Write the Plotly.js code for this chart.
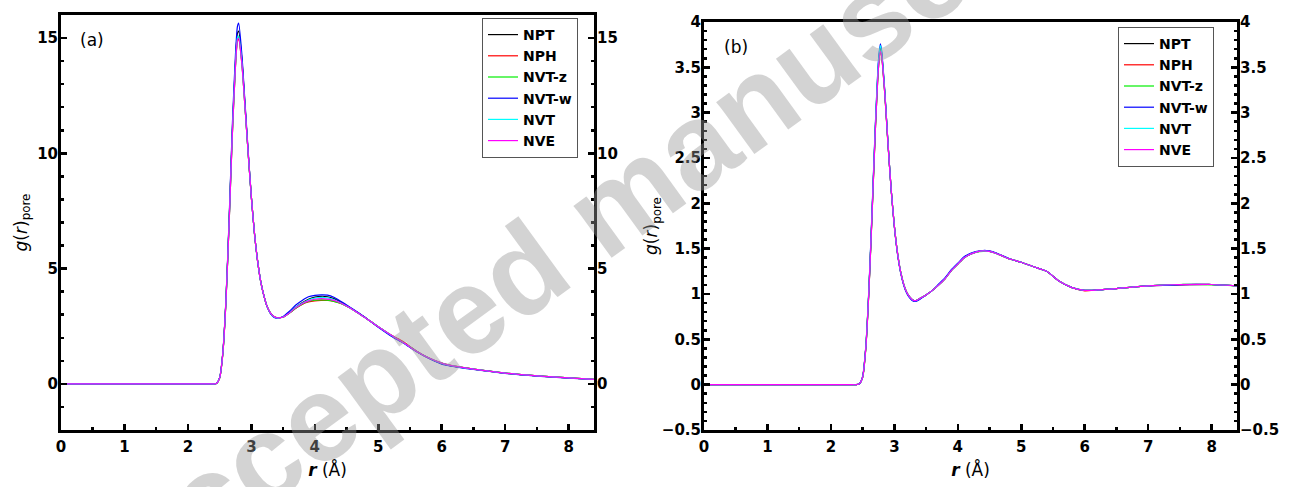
<!DOCTYPE html>
<html>
<head>
<meta charset="utf-8">
<script src="https://cdn.plot.ly/plotly-3.0.1.min.js"></script>
<style>html,body{margin:0;padding:0;background:#fff}#chart{width:1290px;height:487px}</style>
</head>
<body>
<div id="chart"></div>
<script>
// ---------- data ----------
const seriesNames = ["NPT", "NPH", "NVT-z", "NVT-w", "NVT", "NVE"];
const seriesColors = ["#000000", "#ff0000", "#00ee00", "#0000ff", "#00ffff", "#ff00ff"];

const rA = [0, 2.3, 2.4, 2.45, 2.5, 2.55, 2.6, 2.65, 2.7, 2.75, 2.78, 2.8, 2.85, 2.9, 2.95, 3.0, 3.05, 3.1, 3.15, 3.2, 3.25, 3.3, 3.35, 3.4, 3.5, 3.6, 3.7, 3.8, 3.9, 4.0, 4.1, 4.2, 4.3, 4.4, 4.5, 4.6, 4.7, 4.8, 4.9, 5.0, 5.2, 5.4, 5.6, 5.8, 6.0, 6.2, 6.5, 7.0, 7.5, 8.0, 8.4];
const gA_NPT  = [0, 0, 0, 0.02, 0.26, 1.32, 3.65, 7.1, 11.0, 14.0, 15.2, 15.3, 14.1, 12.1, 10.0, 8.1, 6.5, 5.3, 4.4, 3.8, 3.34, 3.07, 2.92, 2.86, 2.9, 3.1, 3.33, 3.52, 3.67, 3.76, 3.8, 3.78, 3.7, 3.56, 3.4, 3.23, 3.05, 2.87, 2.67, 2.48, 2.1, 1.78, 1.42, 1.11, 0.88, 0.76, 0.64, 0.47, 0.35, 0.26, 0.2];
const gA_NPH  = [0, 0, 0, 0.02, 0.25, 1.3, 3.6, 7.0, 10.8, 13.8, 14.85, 14.95, 13.9, 12.0, 10.0, 8.1, 6.5, 5.3, 4.4, 3.8, 3.35, 3.08, 2.93, 2.88, 2.9, 3.07, 3.28, 3.45, 3.55, 3.6, 3.62, 3.62, 3.58, 3.5, 3.37, 3.22, 3.04, 2.86, 2.67, 2.48, 2.12, 1.82, 1.43, 1.12, 0.9, 0.77, 0.64, 0.47, 0.35, 0.26, 0.2];
const gA_NVTz = [0, 0, 0, 0.02, 0.25, 1.3, 3.6, 7.0, 10.8, 13.8, 14.95, 15.05, 13.95, 12.0, 10.0, 8.1, 6.5, 5.3, 4.4, 3.8, 3.35, 3.08, 2.92, 2.87, 2.9, 3.07, 3.28, 3.46, 3.58, 3.63, 3.64, 3.63, 3.58, 3.5, 3.37, 3.22, 3.04, 2.86, 2.67, 2.48, 2.12, 1.78, 1.42, 1.12, 0.9, 0.77, 0.64, 0.47, 0.35, 0.26, 0.2];
const gA_NVTw = [0, 0, 0, 0.02, 0.27, 1.35, 3.7, 7.2, 11.2, 14.3, 15.5, 15.65, 14.3, 12.2, 10.1, 8.1, 6.5, 5.3, 4.4, 3.8, 3.34, 3.06, 2.9, 2.85, 2.92, 3.15, 3.42, 3.62, 3.78, 3.84, 3.86, 3.85, 3.76, 3.6, 3.42, 3.25, 3.06, 2.87, 2.66, 2.46, 2.08, 1.76, 1.4, 1.1, 0.86, 0.75, 0.63, 0.46, 0.34, 0.25, 0.19];
const gA_NVT  = [0, 0, 0, 0.02, 0.26, 1.31, 3.62, 7.05, 10.9, 13.9, 15.0, 15.1, 13.95, 12.0, 10.0, 8.1, 6.5, 5.3, 4.4, 3.8, 3.35, 3.07, 2.92, 2.86, 2.9, 3.08, 3.33, 3.5, 3.64, 3.72, 3.75, 3.73, 3.66, 3.53, 3.38, 3.22, 3.04, 2.86, 2.67, 2.48, 2.11, 1.78, 1.42, 1.12, 0.89, 0.77, 0.64, 0.47, 0.35, 0.26, 0.2];
const gA_NVE  = [0, 0, 0, 0.02, 0.25, 1.3, 3.6, 7.0, 10.8, 13.8, 14.9, 15.0, 13.9, 12.0, 10.0, 8.1, 6.5, 5.3, 4.4, 3.8, 3.35, 3.08, 2.93, 2.87, 2.9, 3.08, 3.3, 3.48, 3.6, 3.67, 3.7, 3.68, 3.62, 3.52, 3.38, 3.22, 3.04, 2.86, 2.67, 2.48, 2.12, 1.78, 1.42, 1.12, 0.9, 0.77, 0.64, 0.47, 0.35, 0.26, 0.2];

const rB = [0, 2.3, 2.4, 2.45, 2.5, 2.55, 2.6, 2.65, 2.7, 2.75, 2.78, 2.8, 2.85, 2.9, 2.95, 3.0, 3.05, 3.1, 3.15, 3.2, 3.25, 3.3, 3.35, 3.4, 3.5, 3.6, 3.7, 3.8, 3.9, 4.0, 4.1, 4.2, 4.3, 4.4, 4.5, 4.6, 4.7, 4.8, 4.9, 5.0, 5.2, 5.4, 5.6, 5.8, 6.0, 6.2, 6.5, 7.0, 7.5, 8.0, 8.4];
const gB_NPT  = [0, 0, 0, 0.01, 0.08, 0.41, 1.06, 1.92, 2.83, 3.54, 3.72, 3.65, 3.22, 2.66, 2.15, 1.75, 1.45, 1.24, 1.1, 1.01, 0.96, 0.93, 0.93, 0.95, 0.99, 1.04, 1.1, 1.17, 1.26, 1.33, 1.4, 1.44, 1.465, 1.475, 1.47, 1.45, 1.42, 1.39, 1.37, 1.35, 1.3, 1.25, 1.14, 1.07, 1.04, 1.045, 1.06, 1.09, 1.105, 1.105, 1.09];
const gB_NPH  = [0, 0, 0, 0.01, 0.08, 0.4, 1.05, 1.9, 2.8, 3.5, 3.68, 3.62, 3.2, 2.65, 2.15, 1.75, 1.45, 1.24, 1.1, 1.01, 0.96, 0.93, 0.93, 0.95, 0.99, 1.04, 1.1, 1.17, 1.26, 1.33, 1.4, 1.44, 1.465, 1.475, 1.47, 1.45, 1.42, 1.39, 1.37, 1.35, 1.3, 1.25, 1.14, 1.07, 1.035, 1.045, 1.06, 1.09, 1.1, 1.105, 1.09];
const gB_NVTz = [0, 0, 0, 0.01, 0.08, 0.4, 1.05, 1.9, 2.8, 3.5, 3.69, 3.63, 3.2, 2.65, 2.15, 1.75, 1.45, 1.24, 1.1, 1.01, 0.96, 0.93, 0.93, 0.95, 0.99, 1.04, 1.1, 1.17, 1.26, 1.33, 1.4, 1.44, 1.465, 1.47, 1.47, 1.45, 1.42, 1.39, 1.37, 1.35, 1.3, 1.25, 1.14, 1.07, 1.04, 1.045, 1.06, 1.09, 1.105, 1.1, 1.09];
const gB_NVTw = [0, 0, 0, 0.01, 0.09, 0.42, 1.08, 1.95, 2.86, 3.58, 3.76, 3.68, 3.23, 2.66, 2.15, 1.74, 1.44, 1.23, 1.09, 1.0, 0.95, 0.92, 0.92, 0.94, 0.99, 1.04, 1.11, 1.18, 1.27, 1.34, 1.41, 1.45, 1.47, 1.48, 1.475, 1.455, 1.425, 1.395, 1.37, 1.35, 1.3, 1.25, 1.14, 1.07, 1.04, 1.045, 1.06, 1.09, 1.1, 1.105, 1.09];
const gB_NVT  = [0, 0, 0, 0.01, 0.08, 0.41, 1.07, 1.93, 2.85, 3.56, 3.74, 3.66, 3.22, 2.66, 2.15, 1.75, 1.45, 1.24, 1.1, 1.01, 0.96, 0.93, 0.93, 0.95, 0.99, 1.04, 1.1, 1.17, 1.26, 1.33, 1.4, 1.44, 1.465, 1.475, 1.47, 1.45, 1.42, 1.39, 1.37, 1.35, 1.3, 1.25, 1.14, 1.07, 1.04, 1.045, 1.06, 1.09, 1.105, 1.105, 1.09];
const gB_NVE  = [0, 0, 0, 0.01, 0.08, 0.4, 1.05, 1.9, 2.8, 3.5, 3.68, 3.62, 3.2, 2.65, 2.15, 1.75, 1.45, 1.24, 1.1, 1.01, 0.96, 0.93, 0.93, 0.95, 0.99, 1.04, 1.1, 1.17, 1.26, 1.33, 1.4, 1.44, 1.465, 1.475, 1.47, 1.45, 1.42, 1.39, 1.37, 1.35, 1.3, 1.25, 1.14, 1.07, 1.04, 1.045, 1.06, 1.09, 1.105, 1.105, 1.09];

const xTickVals = [0, 1, 2, 3, 4, 5, 6, 7, 8];
const yTickValsA = [0, 5, 10, 15];
const yTickValsB = [-0.5, 0, 0.5, 1, 1.5, 2, 2.5, 3, 3.5, 4];
const yTickTextB = ["−0.5", "0", "0.5", "1", "1.5", "2", "2.5", "3", "3.5", "4"];

const seriesA = [gA_NPT, gA_NPH, gA_NVTz, gA_NVTw, gA_NVT, gA_NVE];
const seriesB = [gB_NPT, gB_NPH, gB_NVTz, gB_NVTw, gB_NVT, gB_NVE];

// ---------- traces ----------
// the last series of each panel is drawn against the mirrored right-hand axis (same range),
// so that the right axis with its labels is rendered
const traces = [];
seriesNames.forEach((name, i) => {
  const last = i === seriesNames.length - 1;
  traces.push({x: rA, y: seriesA[i], type: "scatter", mode: "lines", name: name,
    line: {color: seriesColors[i], width: 1.2, shape: "spline", smoothing: 0.6},
    xaxis: "x", yaxis: last ? "y3" : "y", legend: "legend"});
});
seriesNames.forEach((name, i) => {
  const last = i === seriesNames.length - 1;
  traces.push({x: rB, y: seriesB[i], type: "scatter", mode: "lines", name: name,
    line: {color: seriesColors[i], width: 1.2, shape: "spline", smoothing: 0.6},
    xaxis: "x2", yaxis: last ? "y4" : "y2", legend: "legend2"});
});

// ---------- layout ----------
const W = 1290, H = 487;
const tickFont = {family: "DejaVu Sans", size: 15, color: "#000", weight: "bold"};
const px = v => v / W, py = v => 1 - v / H;

function xAxis(domain, anchor) {
  return {domain: domain, anchor: anchor, range: [0, 8.4], tickvals: xTickVals,
    ticks: "inside", ticklen: 6, tickwidth: 2.5, tickcolor: "#000",
    minor: {dtick: 0.5, tick0: 0, ticks: "inside", ticklen: 3, tickwidth: 2.5, tickcolor: "#000"},
    showline: true, linewidth: 3, linecolor: "#000", mirror: true, ticklabelstandoff: 1,
    showgrid: false, zeroline: false, tickfont: tickFont,
    title: {text: "<b><i>r</i></b> (Å)", font: {family: "DejaVu Sans", size: 17, color: "#000"}, standoff: 10}};
}
function yAxis(domain, anchor, range, tickvals, ticktext, minorDt, side, overlay, standoff) {
  const ax = {domain: domain, anchor: anchor, range: range, tickvals: tickvals,
    ticks: "inside", ticklen: 6, tickwidth: 2.5, tickcolor: "#000",
    minor: {dtick: minorDt, tick0: 0, ticks: "inside", ticklen: 3, tickwidth: 2.5, tickcolor: "#000"},
    showline: true, linewidth: 3, linecolor: "#000", ticklabelstandoff: -3,
    showgrid: false, zeroline: false, tickfont: tickFont, side: side};
  if (ticktext) ax.ticktext = ticktext;
  if (overlay) ax.overlaying = overlay;
  else ax.title = {text: "<i>g</i>(<i>r</i>)<sub>pore</sub>", font: {family: "DejaVu Sans", size: 17, color: "#000"}, standoff: standoff};
  return ax;
}

const domXA = [px(61), px(594)], domYA = [py(430), py(15)];
const domXB = [px(704), px(1237)], domYB = [py(430), py(22)];

const legendBase = {xanchor: "left", yanchor: "top", bgcolor: "#fff", bordercolor: "#555", borderwidth: 1,
  font: {family: "DejaVu Sans", size: 14, color: "#000", weight: "bold"}, tracegroupgap: 0, itemwidth: 30};

const layout = {
  width: W, height: H, margin: {l: 0, r: 0, t: 0, b: 0},
  paper_bgcolor: "#fff", plot_bgcolor: "#fff", showlegend: true,
  xaxis: xAxis(domXA, "y"),
  yaxis: yAxis(domYA, "x", [-2, 16], yTickValsA, null, 1, "left", null, 6),
  yaxis3: yAxis(domYA, "x", [-2, 16], yTickValsA, null, 1, "right", "y"),
  xaxis2: xAxis(domXB, "y2"),
  yaxis2: yAxis(domYB, "x2", [-0.5, 4], yTickValsB, yTickTextB, 0.1, "left", null, 0),
  yaxis4: yAxis(domYB, "x2", [-0.5, 4], yTickValsB, yTickTextB, 0.1, "right", "y2"),
  legend: Object.assign({x: px(482), y: py(18)}, legendBase),
  legend2: Object.assign({x: px(1118), y: py(27)}, legendBase),
  annotations: [
    {text: "(a)", xref: "paper", yref: "paper", x: px(78), y: py(40), xanchor: "left", yanchor: "middle",
     showarrow: false, font: {family: "DejaVu Sans", size: 17, color: "#000"}},
    {text: "(b)", xref: "paper", yref: "paper", x: px(722), y: py(47), xanchor: "left", yanchor: "middle",
     showarrow: false, font: {family: "DejaVu Sans", size: 17, color: "#000"}},
    {text: "Accepted manuscript", xref: "paper", yref: "paper", x: px(610), y: py(207), xanchor: "center", yanchor: "middle",
     textangle: -36, showarrow: false, font: {family: "Liberation Sans", size: 122, color: "rgba(150,150,150,0.42)", weight: "bold"}}
  ]
};

Plotly.newPlot("chart", traces, layout, {displayModeBar: false, staticPlot: true});
</script>
</body>
</html>
